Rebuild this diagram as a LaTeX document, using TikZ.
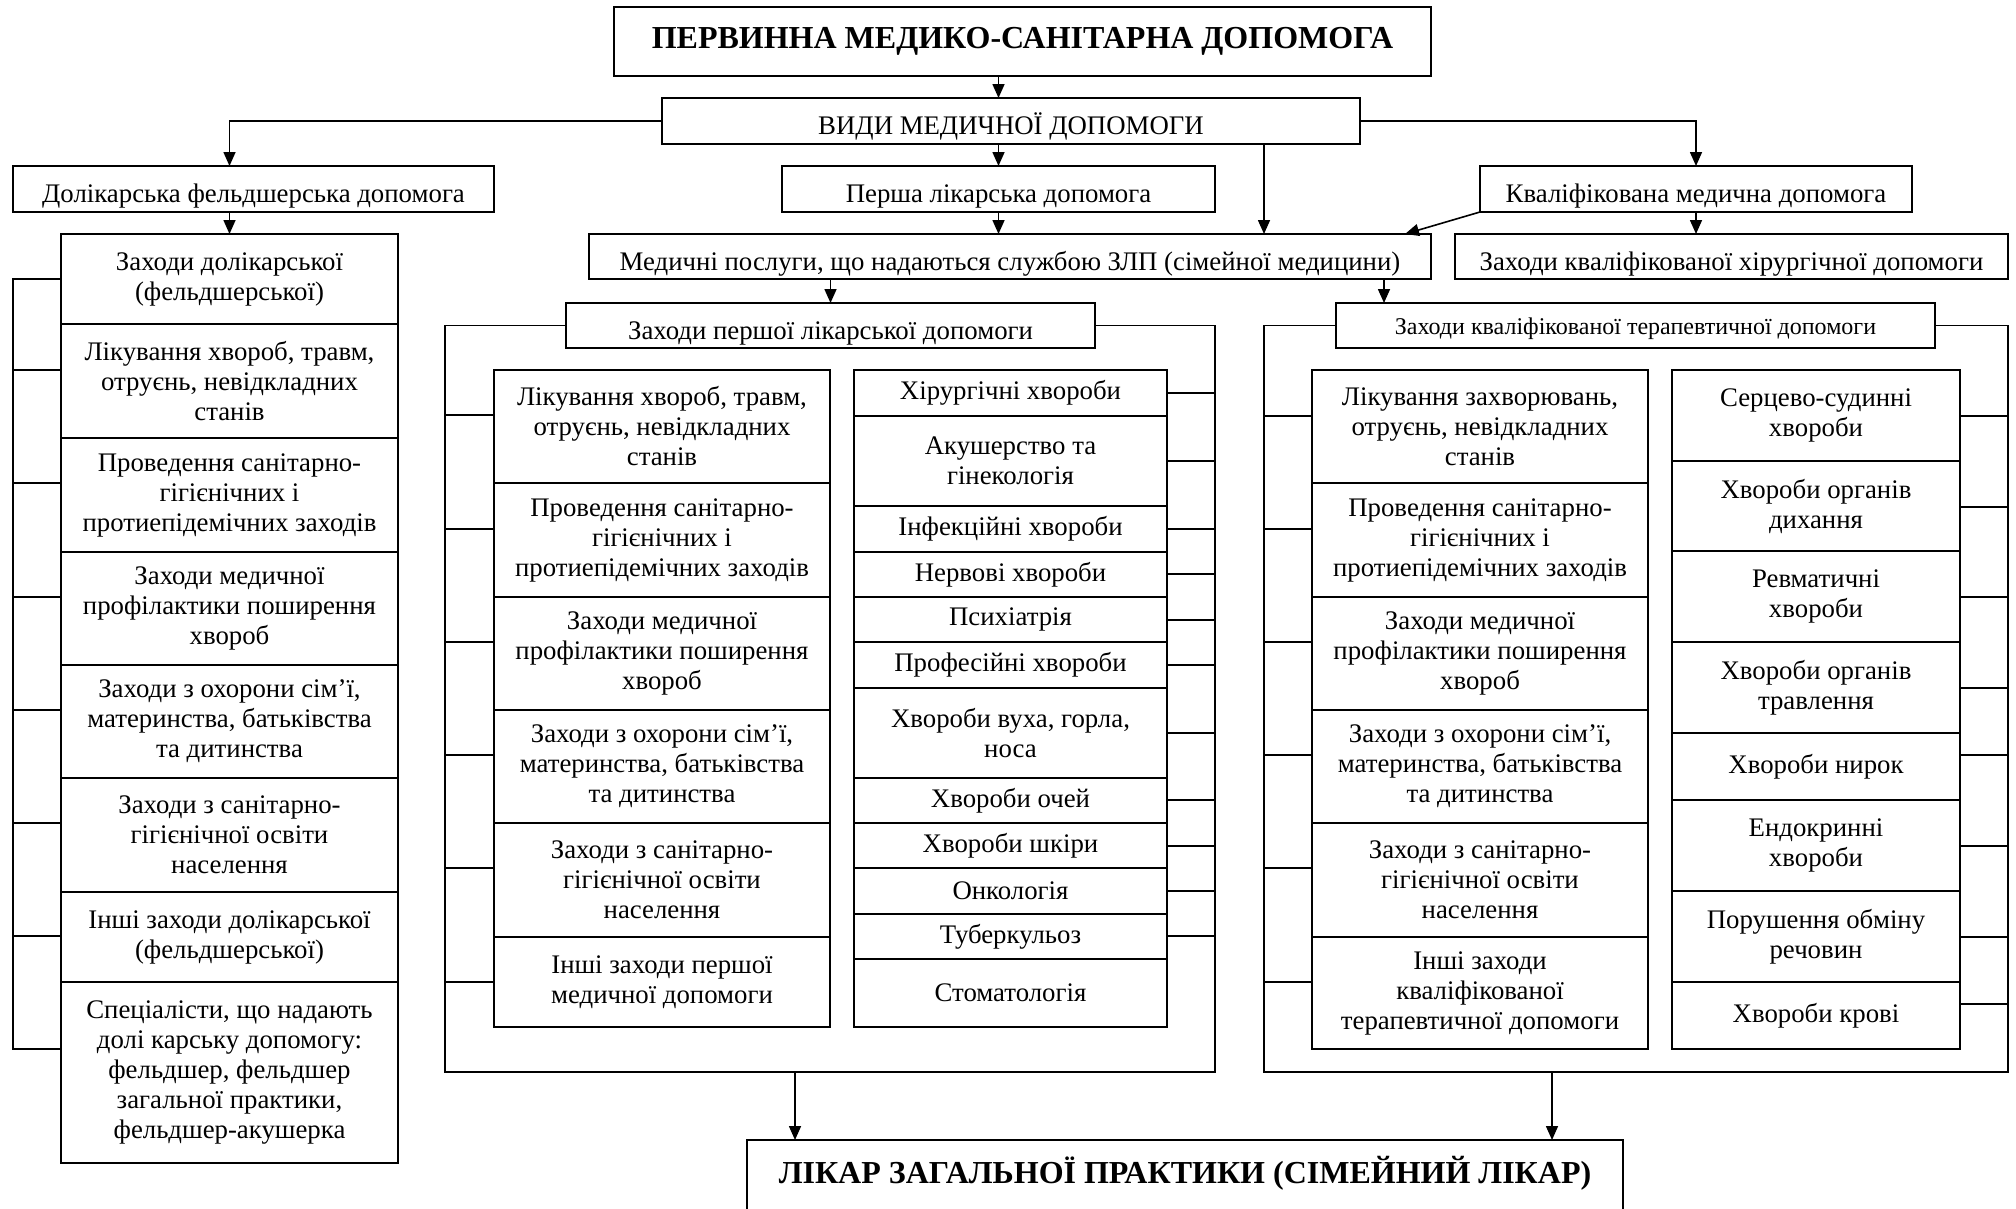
\documentclass[tikz,border=0pt]{standalone}
\usepackage{fontspec}
\setmainfont{Liberation Serif}
\usetikzlibrary{arrows.meta,positioning}
\tikzset{
  hdr/.style={draw,fill=white,inner sep=0pt,outer sep=0pt,align=center,text height=27pt,text depth=0pt},
  cell/.style={draw,inner sep=0pt,outer sep=0pt,align=center},
  colD/.style={cell,minimum width=337pt},
  colA/.style={cell,minimum width=336pt},
  colB/.style={cell,minimum width=313pt},
  colC/.style={cell,minimum width=336pt},
  colE/.style={cell,minimum width=288pt},
  arr/.style={-{Triangle[length=14pt,width=12pt]},line width=1.6pt},
}

\begin{document}
\begin{tikzpicture}[x=1pt,y=-1pt,line width=1.6pt,font=\fontsize{26.8}{30}\selectfont]
\clip (0,0) rectangle (2016,1208);
\fill[white] (0,0) rectangle (2016,1208);

% top levels
\node[hdr,minimum width=817pt,minimum height=69pt,text height=13pt,font=\bfseries\fontsize{32}{38}\selectfont] (title) at (1022.5,41.5) {ПЕРВИННА МЕДИКО-САНІТАРНА ДОПОМОГА};
\node[hdr,minimum width=698pt,minimum height=46pt] (vydy) at (1011,121) {ВИДИ МЕДИЧНОЇ ДОПОМОГИ};
\node[hdr,minimum width=481pt,minimum height=46pt] (dolik) at (253.5,189) {Долікарська фельдшерська допомога};
\node[hdr,minimum width=433pt,minimum height=46pt] (perwa) at (998.5,189) {Перша лікарська допомога};
\node[hdr,minimum width=432pt,minimum height=46pt] (kval) at (1696,189) {Кваліфікована медична допомога};
\node[hdr,minimum width=842pt,minimum height=45pt] (medp) at (1010,256.5) {Медичні послуги, що надаються службою ЗЛП (сімейної медицини)};
\node[hdr,minimum width=553pt,minimum height=45pt] (zkhir) at (1731.5,256.5) {Заходи кваліфікованої хірургічної допомоги};
\node[hdr,minimum width=529pt,minimum height=45pt] (zpl) at (830.5,325.5) {Заходи першої лікарської допомоги};
\node[hdr,minimum width=599pt,minimum height=45pt,text height=18pt,font=\fontsize{24}{28}\selectfont] (zkt) at (1635.5,325.5) {Заходи кваліфікованої терапевтичної допомоги};
\node[hdr,minimum width=876pt,text height=43pt,text depth=60pt,anchor=north,font=\bfseries\fontsize{32}{38}\selectfont] (likar) at (1185,1140) {ЛІКАР ЗАГАЛЬНОЇ ПРАКТИКИ (СІМЕЙНИЙ ЛІКАР)};

% dolikarska column
\node[colD,minimum height=90pt,anchor=north] (d1) at (229.5,234) {Заходи долікарської\\(фельдшерської)};
\node[colD,minimum height=114pt,below=0pt of d1] (d2) {Лікування хвороб, травм,\\отруєнь, невідкладних\\станів};
\node[colD,minimum height=114pt,below=0pt of d2] (d3) {Проведення санітарно-\\гігієнічних і\\протиепідемічних заходів};
\node[colD,minimum height=113pt,below=0pt of d3] (d4) {Заходи медичної\\профілактики поширення\\хвороб};
\node[colD,minimum height=113pt,below=0pt of d4] (d5) {Заходи з охорони сім’ї,\\материнства, батьківства\\та дитинства};
\node[colD,minimum height=114pt,below=0pt of d5] (d6) {Заходи з санітарно-\\гігієнічної освіти\\населення};
\node[colD,minimum height=90pt,below=0pt of d6] (d7) {Інші заходи долікарської\\(фельдшерської)};
\node[colD,minimum height=181pt,below=0pt of d7] (d8) {Спеціалісти, що надають\\долі карську допомогу:\\фельдшер, фельдшер\\загальної практики,\\фельдшер-акушерка};

% persha likarska
\node[colA,minimum height=113pt,anchor=north] (a1) at (662,370) {Лікування хвороб, травм,\\отруєнь, невідкладних\\станів};
\node[colA,minimum height=114pt,below=0pt of a1] (a2) {Проведення санітарно-\\гігієнічних і\\протиепідемічних заходів};
\node[colA,minimum height=113pt,below=0pt of a2] (a3) {Заходи медичної\\профілактики поширення\\хвороб};
\node[colA,minimum height=113pt,below=0pt of a3] (a4) {Заходи з охорони сім’ї,\\материнства, батьківства\\та дитинства};
\node[colA,minimum height=114pt,below=0pt of a4] (a5) {Заходи з санітарно-\\гігієнічної освіти\\населення};
\node[colA,minimum height=90pt,below=0pt of a5] (a6) {Інші заходи першої\\медичної допомоги};

\node[colB,minimum height=46pt,anchor=north] (b1) at (1010.5,370) {Хірургічні хвороби};
\node[colB,minimum height=90pt,below=0pt of b1] (b2) {Акушерство та\\гінекологія};
\node[colB,minimum height=46pt,below=0pt of b2] (b3) {Інфекційні хвороби};
\node[colB,minimum height=45pt,below=0pt of b3] (b4) {Нервові хвороби};
\node[colB,minimum height=45pt,below=0pt of b4] (b5) {Психіатрія};
\node[colB,minimum height=46pt,below=0pt of b5] (b6) {Професійні хвороби};
\node[colB,minimum height=90pt,below=0pt of b6] (b7) {Хвороби вуха, горла,\\носа};
\node[colB,minimum height=45pt,below=0pt of b7] (b8) {Хвороби очей};
\node[colB,minimum height=45pt,below=0pt of b8] (b9) {Хвороби шкіри};
\node[colB,minimum height=46pt,below=0pt of b9] (b10) {Онкологія};
\node[colB,minimum height=45pt,below=0pt of b10] (b11) {Туберкульоз};
\node[colB,minimum height=68pt,below=0pt of b11] (b12) {Стоматологія};

% kvalifikovana terapevtychna
\node[colC,minimum height=113pt,anchor=north] (c1) at (1480,370) {Лікування захворювань,\\отруєнь, невідкладних\\станів};
\node[colC,minimum height=114pt,below=0pt of c1] (c2) {Проведення санітарно-\\гігієнічних і\\протиепідемічних заходів};
\node[colC,minimum height=113pt,below=0pt of c2] (c3) {Заходи медичної\\профілактики поширення\\хвороб};
\node[colC,minimum height=113pt,below=0pt of c3] (c4) {Заходи з охорони сім’ї,\\материнства, батьківства\\та дитинства};
\node[colC,minimum height=114pt,below=0pt of c4] (c5) {Заходи з санітарно-\\гігієнічної освіти\\населення};
\node[colC,minimum height=112pt,below=0pt of c5] (c6) {Інші заходи\\кваліфікованої\\терапевтичної допомоги};

\node[colE,minimum height=91pt,anchor=north] (e1) at (1816,370) {Серцево-судинні\\хвороби};
\node[colE,minimum height=90pt,below=0pt of e1] (e2) {Хвороби органів\\дихання};
\node[colE,minimum height=91pt,below=0pt of e2] (e3) {Ревматичні\\хвороби};
\node[colE,minimum height=91pt,below=0pt of e3] (e4) {Хвороби органів\\травлення};
\node[colE,minimum height=67pt,below=0pt of e4] (e5) {Хвороби нирок};
\node[colE,minimum height=91pt,below=0pt of e5] (e6) {Ендокринні\\хвороби};
\node[colE,minimum height=91pt,below=0pt of e6] (e7) {Порушення обміну\\речовин};
\node[colE,minimum height=67pt,below=0pt of e7] (e8) {Хвороби крові};

% frames and combs
\draw (61,279) -| (13,1049) -- (61,1049);
\foreach \y in {370,483,597,710,823,936} \draw (13,\y) -- (61,\y);
\draw (zpl.west) -| (445,1072) -| (1215,325.5) -- (zpl.east);
\foreach \y in {415,529,642,755,868,982} \draw (445,\y) -- (494,\y);
\foreach \y in {393,461,529,574,620,665,733,800,846,891,936} \draw (1167,\y) -- (1215,\y);
\draw (zkt.west) -| (1264,1072) -| (2008,325.5) -- (zkt.east);
\foreach \y in {416,529,642,755,868,982} \draw (1264,\y) -- (1312,\y);
\foreach \y in {416,507,597,688,755,846,937,1004} \draw (1960,\y) -- (2008,\y);

% arrows
\coordinate (xq) at (1264,0);
\coordinate (xt) at (1384,0);
\coordinate (fm) at (795,1072);
\coordinate (fr) at (1552,1072);
\draw[arr] (title.south -| perwa.north) -- (vydy.north -| perwa.north);
\draw[arr] (vydy.west) -| (dolik.north -| d1.north);
\draw[arr] (vydy.east) -| (kval.north);
\draw[arr] (vydy.south -| perwa.north) -- (perwa.north);
\draw[arr] (vydy.south -| xq) -- (medp.north -| xq);
\draw[arr] (perwa.south) -- (perwa.south |- medp.north);
\draw[arr] (kval.south west) -- ([xshift=-26pt]medp.north east);
\draw[arr] (kval.south) -- (kval.south |- zkhir.north);
\draw[arr] (dolik.south -| d1.north) -- (d1.north);
\draw[arr] (medp.south -| zpl.north) -- (zpl.north);
\draw[arr] (medp.south -| xt) -- (zkt.north -| xt);
\draw[arr] (fm) -- (fm |- likar.north);
\draw[arr] (fr) -- (fr |- likar.north);
\end{tikzpicture}
\end{document}
